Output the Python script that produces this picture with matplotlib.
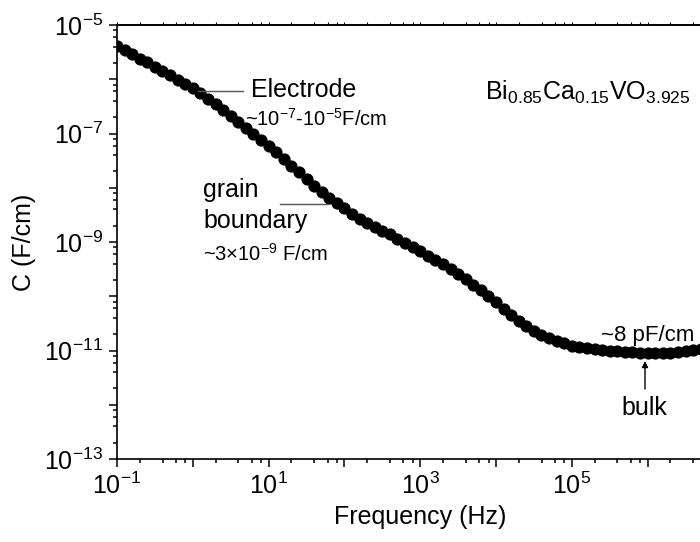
import matplotlib
matplotlib.use("Agg")
import matplotlib.pyplot as plt
from matplotlib.ticker import LogLocator, FuncFormatter, NullFormatter
from matplotlib.lines import Line2D
import numpy as np

plt.rcParams['font.family'] = ['Liberation Sans', 'DejaVu Sans']
plt.rcParams['mathtext.fontset'] = 'custom'
plt.rcParams['mathtext.rm'] = 'Liberation Sans'
plt.rcParams['mathtext.it'] = 'Liberation Sans:italic'
plt.rcParams['mathtext.bf'] = 'Liberation Sans:bold'

# log10 of measurement frequency (Hz), 10 points per decade
log_freq = [
    -1.0, -0.9, -0.8, -0.7, -0.6, -0.5, -0.4, -0.3, -0.2, -0.1,
    0.0, 0.1, 0.2, 0.3, 0.4, 0.5, 0.6, 0.7, 0.8, 0.9,
    1.0, 1.1, 1.2, 1.3, 1.4, 1.5, 1.6, 1.7, 1.8, 1.9,
    2.0, 2.1, 2.2, 2.3, 2.4, 2.5, 2.6, 2.7, 2.8, 2.9,
    3.0, 3.1, 3.2, 3.3, 3.4, 3.5, 3.6, 3.7, 3.8, 3.9,
    4.0, 4.1, 4.2, 4.3, 4.4, 4.5, 4.6, 4.7, 4.8, 4.9,
    5.0, 5.1, 5.2, 5.3, 5.4, 5.5, 5.6, 5.7, 5.8, 5.9,
    6.0, 6.1, 6.2, 6.3, 6.4, 6.5, 6.6, 6.7, 6.8,
]

# log10 of capacitance (F/cm)
log_cap = [
    -5.39, -5.47, -5.54, -5.62, -5.69, -5.77, -5.85, -5.93, -6.01, -6.09,
    -6.17, -6.26, -6.36, -6.46, -6.56, -6.67, -6.78, -6.89, -7.00, -7.12,
    -7.23, -7.35, -7.47, -7.59, -7.71, -7.84, -7.96, -8.07, -8.18, -8.28,
    -8.38, -8.48, -8.57, -8.65, -8.72, -8.79, -8.86, -8.94, -9.01, -9.09,
    -9.17, -9.25, -9.33, -9.41, -9.50, -9.59, -9.69, -9.79, -9.89, -10.00,
    -10.11, -10.23, -10.35, -10.46, -10.55, -10.64, -10.71, -10.77, -10.82, -10.87,
    -10.91, -10.94, -10.96, -10.98, -10.99, -11.00, -11.01, -11.02, -11.03, -11.04,
    -11.05, -11.05, -11.05, -11.04, -11.02, -11.01, -10.99, -10.97, -10.95,
]

# decades that carry a tick label
x_label_exps = [-1, 1, 3, 5]
y_label_exps = [-13, -11, -9, -7, -5]

freq = 10.0 ** np.array(log_freq)
cap = 10.0 ** np.array(log_cap)

W, H = 700, 542
fig = plt.figure(figsize=(W / 100, H / 100), dpi=100)

# axes box in pixels: left 117, top 25, bottom 459; right edge runs past the canvas
left_px, top_px, bottom_px = 117, 25, 459
right_px = 117 + 8 * 75.8
ax = fig.add_axes([left_px / W, 1 - bottom_px / H,
                   (right_px - left_px) / W, (bottom_px - top_px) / H])

ax.plot(freq, cap, 'o', color='black', markersize=8.8, markeredgewidth=0)

ax.set_xscale('log')
ax.set_yscale('log')
ax.set_xlim(1e-1, 1e7)
ax.set_ylim(1e-13, 1e-5)


def decade_formatter(exps):
    def fmt(v, pos):
        e = int(round(np.log10(v)))
        if e in exps:
            return r'$\mathregular{10^{%d}}$' % e
        return ''
    return FuncFormatter(fmt)


for axis, exps in ((ax.xaxis, x_label_exps), (ax.yaxis, y_label_exps)):
    axis.set_major_locator(LogLocator(base=10, subs=(1.0,), numticks=30))
    axis.set_minor_locator(LogLocator(base=10, subs=(2, 4, 6, 8), numticks=30))
    axis.set_major_formatter(decade_formatter(exps))
    axis.set_minor_formatter(NullFormatter())

ax.tick_params(which='both', direction='out', width=1.1, labelsize=18, pad=4,
               top=False, right=False)
ax.tick_params(which='major', length=6)
ax.tick_params(which='minor', length=3)
for s in ('left', 'bottom', 'top'):
    ax.spines[s].set_linewidth(1.2)

# faint ticks along the top edge
top = ax.secondary_xaxis('top')
top.xaxis.set_major_locator(LogLocator(base=10, subs=(1.0,), numticks=30))
top.xaxis.set_minor_locator(LogLocator(base=10, subs=(2, 4, 6, 8), numticks=30))
top.xaxis.set_major_formatter(NullFormatter())
top.xaxis.set_minor_formatter(NullFormatter())
top.tick_params(which='both', direction='out', width=0.8, length=2)
top.spines['top'].set_linewidth(1.2)

ax.set_xlabel('Frequency (Hz)', fontsize=18, labelpad=4)
ax.set_ylabel('C (F/cm)', fontsize=18, labelpad=6)


def fx(px):
    return px / W


def fy(py):
    return 1 - py / H


# annotations
fig.text(fx(251), fy(97), 'Electrode', fontsize=18, va='baseline')
fig.add_artist(Line2D([fx(198), fx(243)], [fy(90.5), fy(90.5)],
                      color='#555555', lw=1.0))
fig.text(fx(245), fy(126), r'~$\mathregular{10^{-7}}$-$\mathregular{10^{-5}}$F/cm',
         fontsize=14.5, va='baseline')

fig.text(fx(203), fy(197), 'grain', fontsize=18, va='baseline')
fig.text(fx(203), fy(228), 'boundary', fontsize=18, va='baseline')
fig.add_artist(Line2D([fx(280), fx(328)], [fy(204), fy(204)],
                      color='#555555', lw=1.0))
fig.text(fx(203), fy(261), r'~3×$\mathregular{10^{-9}}$ F/cm',
         fontsize=14.5, va='baseline')

fig.text(fx(485), fy(100), r'$\mathregular{Bi_{0.85}Ca_{0.15}VO_{3.925}}$',
         fontsize=18, va='baseline')

fig.text(fx(601), fy(341), '~8 pF/cm', fontsize=16, va='baseline')
ax.annotate('', xy=(fx(645), fy(361)), xycoords='figure fraction',
            xytext=(fx(645), fy(389)), textcoords='figure fraction',
            arrowprops=dict(arrowstyle='-|>', color='black', lw=1.0,
                            mutation_scale=9, shrinkA=0, shrinkB=0))
fig.text(fx(644), fy(415), 'bulk', fontsize=18, va='baseline', ha='center')

fig.savefig('out.png', dpi=100)
